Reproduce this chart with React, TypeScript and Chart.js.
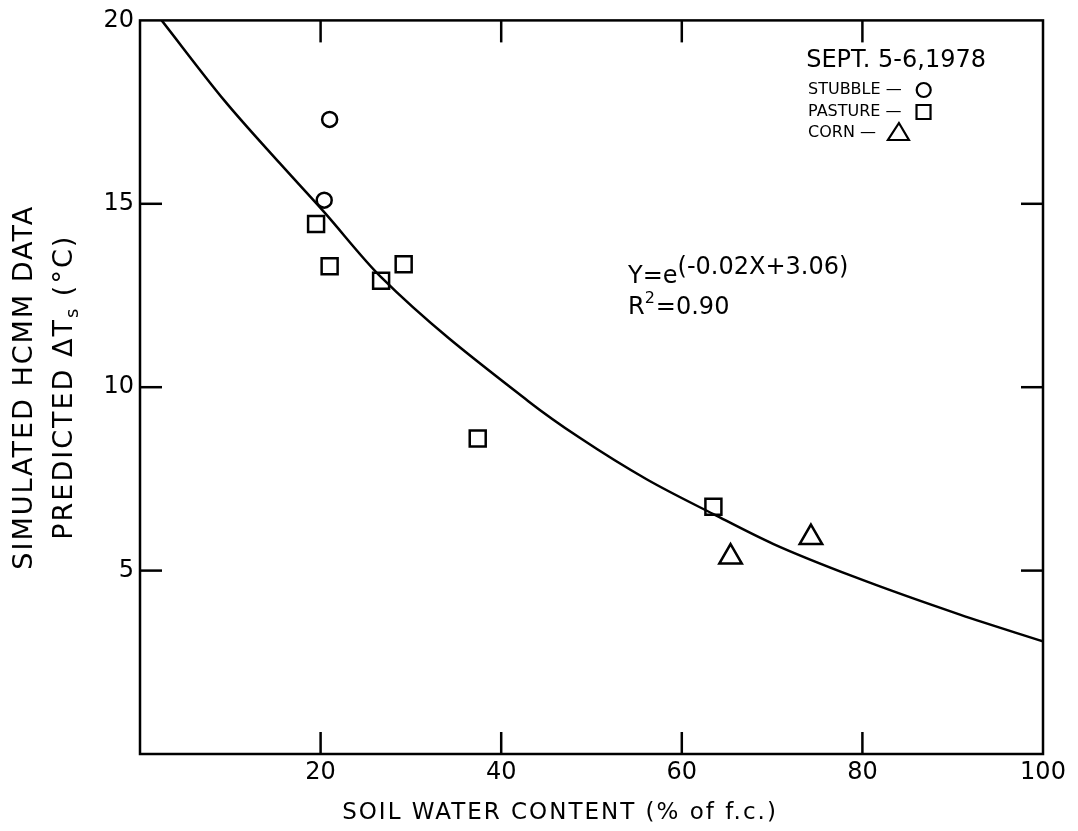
import React, { useEffect, useRef } from "react";
import { Chart, registerables } from "chart.js";

Chart.register(...registerables);

// ---- data ----
const X_TICKS = [20, 40, 60, 80, 100];
const Y_TICKS = [5, 10, 15, 20];

const curveX = [2.4, 9.4, 15.5, 20.3, 26.7, 43.0, 48.7, 56.1, 63.5, 70.1, 79.2, 90.8, 100];
const curveY = [20, 17.8, 16.1, 14.8, 13.0, 9.62, 8.62, 7.49, 6.54, 5.73, 4.82, 3.8, 3.07];

const stubbleX = [21.0, 20.4];
const stubbleY = [17.3, 15.1];

const pastureX = [19.5, 21.0, 26.7, 29.2, 37.4, 63.5];
const pastureY = [14.45, 13.3, 12.9, 13.35, 8.6, 6.74];

const cornX = [65.4, 74.3];
const cornY = [5.37, 5.9];

const X_TITLE = "SOIL WATER CONTENT (% of f.c.)";
const Y_TITLE_1 = "SIMULATED HCMM DATA";
const Y_TITLE_2A = "PREDICTED \u0394T";
const Y_TITLE_2SUB = "s";
const Y_TITLE_2B = " (\u00B0C)";
const LEGEND_TITLE = "SEPT. 5-6,1978";
const LEGEND_ROWS = [
  { label: "STUBBLE \u2014", shape: "circle" },
  { label: "PASTURE \u2014", shape: "rect" },
  { label: "CORN \u2014", shape: "triangle" },
];
const EQ_BASE = "Y=e";
const EQ_EXP = "(-0.02X+3.06)";
const R2_A = "R";
const R2_SUP = "2";
const R2_B = "=0.90";

const FONT = "'DejaVu Sans', sans-serif";

const zip = (xs: number[], ys: number[]) => xs.map((x, i) => ({ x, y: ys[i] }));

const decor = {
  id: "decor",
  afterDraw(chart: any) {
    const { ctx, chartArea: a } = chart;
    const xs = chart.scales.x;
    const ys = chart.scales.y;
    ctx.save();
    ctx.strokeStyle = "#000";
    ctx.fillStyle = "#000";
    ctx.lineWidth = 2.5;
    ctx.strokeRect(a.left, a.top, a.right - a.left, a.bottom - a.top);
    const tl = 22;
    const line = (x1: number, y1: number, x2: number, y2: number) => {
      ctx.beginPath();
      ctx.moveTo(x1, y1);
      ctx.lineTo(x2, y2);
      ctx.stroke();
    };
    X_TICKS.forEach((v) => {
      const px = xs.getPixelForValue(v);
      if (px < a.right - 2) {
        line(px, a.bottom, px, a.bottom - tl);
        line(px, a.top, px, a.top + tl);
      }
    });
    Y_TICKS.forEach((v) => {
      const py = ys.getPixelForValue(v);
      if (py > a.top + 2) {
        line(a.left, py, a.left + tl, py);
        line(a.right, py, a.right - tl, py);
      }
    });

    // x title
    ctx.save();
    ctx.font = `23px ${FONT}`;
    (ctx as any).letterSpacing = "2px";
    ctx.textAlign = "center";
    ctx.textBaseline = "middle";
    ctx.fillText(X_TITLE, 560, 813);
    ctx.restore();

    // y titles (rotated)
    const yMid = (a.top + a.bottom) / 2;
    ctx.save();
    ctx.translate(25, yMid);
    ctx.rotate(-Math.PI / 2);
    ctx.font = `27px ${FONT}`;
    (ctx as any).letterSpacing = "2px";
    ctx.textAlign = "center";
    ctx.textBaseline = "middle";
    ctx.fillText(Y_TITLE_1, 0, 0);
    ctx.restore();

    ctx.save();
    ctx.translate(65, yMid);
    ctx.rotate(-Math.PI / 2);
    ctx.textBaseline = "middle";
    (ctx as any).letterSpacing = "2px";
    ctx.font = `27px ${FONT}`;
    const wA = ctx.measureText(Y_TITLE_2A).width;
    const wB = ctx.measureText(Y_TITLE_2B).width;
    ctx.font = `18px ${FONT}`;
    const wS = ctx.measureText(Y_TITLE_2SUB).width;
    const total = wA + wS + wB;
    let cx = -total / 2;
    ctx.textAlign = "left";
    ctx.font = `27px ${FONT}`;
    ctx.fillText(Y_TITLE_2A, cx, 0);
    cx += wA;
    ctx.font = `18px ${FONT}`;
    ctx.fillText(Y_TITLE_2SUB, cx, 8);
    cx += wS;
    ctx.font = `27px ${FONT}`;
    ctx.fillText(Y_TITLE_2B, cx, 0);
    ctx.restore();

    // legend
    ctx.textAlign = "right";
    ctx.textBaseline = "middle";
    ctx.font = `24px ${FONT}`;
    ctx.fillText(LEGEND_TITLE, 986, 61);
    ctx.textAlign = "left";
    ctx.font = `16px ${FONT}`;
    ctx.lineWidth = 2.2;
    const rowY = [90, 112, 133];
    LEGEND_ROWS.forEach((r, i) => {
      const ty = rowY[i];
      const tx = 808;
      ctx.fillText(r.label, tx, ty);
      const w = ctx.measureText(r.label).width;
      const mx = tx + w + 22;
      ctx.beginPath();
      if (r.shape === "circle") {
        ctx.arc(mx, ty, 7, 0, Math.PI * 2);
      } else if (r.shape === "rect") {
        ctx.rect(mx - 7, ty - 7, 14, 14);
      } else {
        ctx.moveTo(mx + 1, ty - 10);
        ctx.lineTo(mx + 11, ty + 7);
        ctx.lineTo(mx - 10, ty + 7);
        ctx.closePath();
      }
      ctx.stroke();
    });

    // equation
    ctx.font = `24px ${FONT}`;
    ctx.textAlign = "left";
    ctx.textBaseline = "alphabetic";
    const ex = 628;
    const ey = 283;
    ctx.fillText(EQ_BASE, ex, ey);
    const wb = ctx.measureText(EQ_BASE).width;
    ctx.fillText(EQ_EXP, ex + wb, ey - 9);
    const ry = 314;
    ctx.fillText(R2_A, ex, ry);
    const wr = ctx.measureText(R2_A).width;
    ctx.font = `16px ${FONT}`;
    ctx.fillText(R2_SUP, ex + wr, ry - 11);
    const w2 = ctx.measureText(R2_SUP).width;
    ctx.font = `24px ${FONT}`;
    ctx.fillText(R2_B, ex + wr + w2 + 1, ry);

    ctx.restore();
  },
};

export default function App() {
  const ref = useRef<HTMLCanvasElement | null>(null);
  useEffect(() => {
    if (!ref.current) return;
    const chart = new Chart(ref.current, {
      type: "scatter",
      data: {
        datasets: [
          {
            label: "fit",
            data: zip(curveX, curveY),
            showLine: true,
            borderColor: "#000",
            borderWidth: 2.5,
            pointRadius: 0,
            cubicInterpolationMode: "monotone",
            fill: false,
          } as any,
          {
            label: "STUBBLE",
            data: zip(stubbleX, stubbleY),
            pointStyle: "circle",
            pointRadius: 7.5,
            borderColor: "#000",
            borderWidth: 2.5,
            backgroundColor: "rgba(0,0,0,0)",
          },
          {
            label: "PASTURE",
            data: zip(pastureX, pastureY),
            pointStyle: "rect",
            pointRadius: 11.3,
            borderColor: "#000",
            borderWidth: 2.5,
            backgroundColor: "rgba(0,0,0,0)",
          },
          {
            label: "CORN",
            data: zip(cornX, cornY),
            pointStyle: "triangle",
            pointRadius: 13,
            borderColor: "#000",
            borderWidth: 2.5,
            backgroundColor: "rgba(0,0,0,0)",
          },
        ],
      },
      options: {
        animation: false,
        responsive: true,
        maintainAspectRatio: false,
        layout: { padding: { top: 18, right: 35, left: 0, bottom: 0 } },
        plugins: { legend: { display: false }, tooltip: { enabled: false } },
        scales: {
          x: {
            type: "linear",
            min: 0,
            max: 100,
            grid: { display: false, drawTicks: false },
            border: { display: false },
            afterBuildTicks: (s: any) => {
              s.ticks = X_TICKS.map((v) => ({ value: v }));
            },
            afterFit: (s: any) => {
              s.height = 77;
            },
            ticks: {
              color: "#000",
              padding: 4,
              font: { family: FONT, size: 24 },
              maxRotation: 0,
            },
          },
          y: {
            type: "linear",
            min: 0,
            max: 20,
            grid: { display: false, drawTicks: false },
            border: { display: false },
            afterBuildTicks: (s: any) => {
              s.ticks = Y_TICKS.map((v) => ({ value: v }));
            },
            afterFit: (s: any) => {
              s.width = 140;
            },
            ticks: {
              color: "#000",
              padding: 6,
              font: { family: FONT, size: 24 },
            },
          },
        },
      },
      plugins: [decor],
    });
    return () => chart.destroy();
  }, []);
  return (
    <div style={{ position: "absolute", left: 0, top: 0, width: 1078, height: 831, background: "#fff" }}>
      <canvas ref={ref} />
    </div>
  );
}
